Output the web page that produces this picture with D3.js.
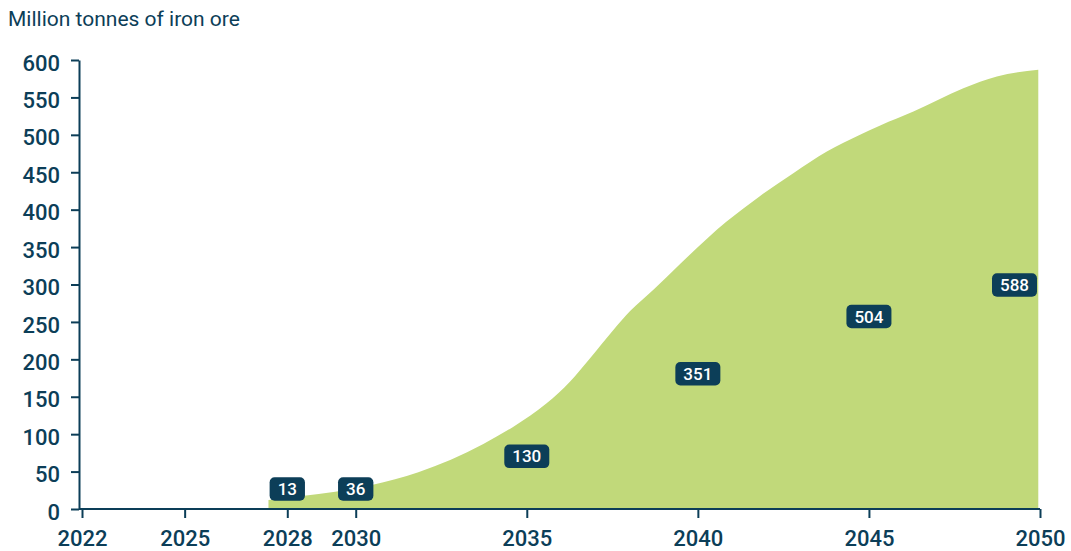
<!DOCTYPE html>
<html>
<head>
<meta charset="utf-8">
<script src="https://cdn.jsdelivr.net/npm/d3@7"></script>
<style>
  body { margin: 0; background: #fff; }
  text { font-family: Roboto, "Noto Sans", sans-serif; }
</style>
</head>
<body>
<div id="chart"></div>
<script>
// outline of the area (year, million tonnes)
var years = [2027.45, 2028.43, 2029.4, 2030.47, 2031.83, 2033.73, 2034.61, 2035.58, 2036.26,
             2036.85, 2037.53, 2038.02, 2038.7, 2039.48, 2040.84, 2041.82, 2042.79, 2043.77,
             2044.74, 2045.33, 2046.3, 2047.76, 2048.74, 2049.95];
var values = [12, 17.4, 23.1, 32.1, 49.1, 86.9, 110, 141.3, 170.2,
              201.5, 239.3, 264.5, 293, 327.5, 384.1, 418.4, 448.8, 477.7,
              500, 512.5, 531.1, 562.4, 578, 587];

// value labels
var labelYears = [2028, 2030, 2035, 2040, 2045, 2050];
var labelValues = [13, 36, 130, 351, 504, 588];

var xTicks = [2022, 2025, 2028, 2030, 2035, 2040, 2045, 2050];
var yTicks = [0, 50, 100, 150, 200, 250, 300, 350, 400, 450, 500, 550, 600];

var W = 1071, H = 551;
var navy = "#0c3e58", green = "#c1d97a";

var svg = d3.select("#chart").append("svg")
    .attr("width", W)
    .attr("height", H);

var x = d3.scaleLinear().domain([2022, 2050]).range([82, 1040]);
var y = d3.scaleLinear().domain([0, 600]).range([509, 60]);

var data = years.map(function(d, i) { return {year: d, value: values[i]}; });

var area = d3.area()
    .curve(d3.curveMonotoneX)
    .x(function(d) { return x(d.year); })
    .y0(y(0))
    .y1(function(d) { return y(d.value); });

svg.append("path")
    .datum(data)
    .attr("fill", green)
    .attr("d", area);

// title
svg.append("text")
    .attr("x", 8)
    .attr("y", 26)
    .attr("fill", navy)
    .style("font-size", "21px")
    .text("Million tonnes of iron ore");

// y axis
var yAxis = d3.axisLeft(y)
    .tickValues(yTicks)
    .tickSize(8)
    .tickSizeOuter(0)
    .tickPadding(11);

var gy = svg.append("g")
    .attr("transform", "translate(79,0)")
    .call(yAxis);

// x axis
var xAxis = d3.axisBottom(x)
    .tickValues(xTicks)
    .tickFormat(d3.format("d"))
    .tickSize(9)
    .tickSizeOuter(0)
    .tickPadding(12);

var gx = svg.append("g")
    .attr("transform", "translate(0," + y(0) + ")")
    .call(xAxis);
gx.select(".domain").remove();
gx.append("line")
    .attr("x1", 79)
    .attr("x2", x.range()[1])
    .attr("stroke", navy)
    .attr("stroke-width", 2);

[gx, gy].forEach(function(g) {
  g.selectAll(".domain, .tick line").attr("stroke", navy).attr("stroke-width", 2);
  g.selectAll(".tick text")
    .attr("fill", navy)
    .style("font-size", "22px")
    .style("font-weight", 500);
});
gy.selectAll(".tick text").attr("dy", "0.46em");

// value labels
var labels = svg.append("g");
labelYears.forEach(function(yr, i) {
  var v = labelValues[i];
  var g = labels.append("g");
  var t = g.append("text")
      .attr("text-anchor", "middle")
      .attr("dy", "0.36em")
      .attr("fill", "#fff")
      .style("font-size", "17px")
      .style("font-weight", 500)
      .text(v);
  var w = t.node().getComputedTextLength() + 16, h = 23.5;
  var cx = Math.min(x(yr), x.range()[1] - w / 2 - 3);
  var cy = Math.min(y(v / 2) - 4, y(0) - 20);
  g.insert("rect", "text")
      .attr("x", -w / 2)
      .attr("y", -h / 2)
      .attr("width", w)
      .attr("height", h)
      .attr("rx", 5)
      .attr("fill", navy);
  g.attr("transform", "translate(" + cx + "," + cy + ")");
});
</script>
</body>
</html>
